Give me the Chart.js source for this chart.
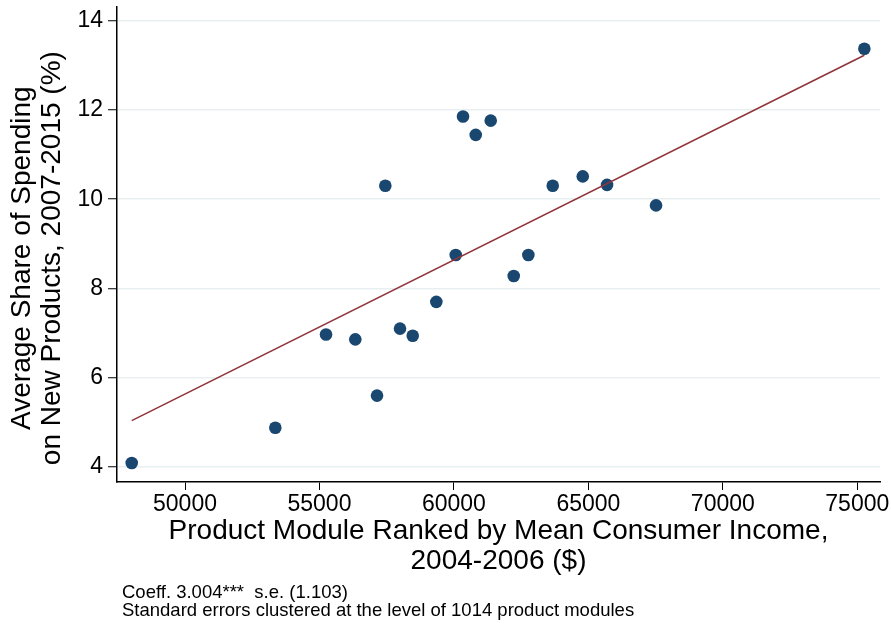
<!DOCTYPE html>
<html>
<head>
<meta charset="utf-8">
<title>New product spending share by consumer income</title>
<script src="https://cdn.jsdelivr.net/npm/chart.js@4.4.1/dist/chart.umd.min.js"></script>
<style>
  html, body { margin: 0; padding: 0; background: #ffffff; }
  #wrap { width: 891px; height: 626px; position: relative; }
</style>
</head>
<body>
<div id="wrap"><canvas id="chart"></canvas></div>
<script>
// Mean consumer income of each product-module bin, 2004-2006 ($)
const incomeX = [48018, 53358, 55244, 56333, 57140, 57449, 57995, 58468, 59346, 60067,
                 60338, 60811, 61368, 62224, 62767, 63674, 64790, 65694, 67516, 75262];
// Average share of spending on new products, 2007-2015 (%)
const shareY  = [4.09, 4.88, 6.97, 6.86, 5.60, 10.30, 7.10, 6.94, 7.70, 8.75,
                 11.85, 11.44, 11.76, 8.28, 8.75, 10.30, 10.51, 10.32, 9.86, 13.37];

const xTicks = [50000, 55000, 60000, 65000, 70000, 75000];
const yTicks = [4, 6, 8, 10, 12, 14];

// Linear fit: slope is the reported coefficient, in points per $10,000
const fitCoeff = 3.004;
const fitStartX = 48018;
const fitStartY = 5.04;
const fitEndX = 75262;

const yTitleLines = ['Average Share of Spending', 'on New Products, 2007-2015 (%)'];
const xTitleLines = ['Product Module Ranked by Mean Consumer Income,', '2004-2006 ($)'];
const noteLines = ['Coeff. 3.004***  s.e. (1.103)',
                   'Standard errors clustered at the level of 1014 product modules'];

const FONT = '"Liberation Sans", Arial, Helvetica, sans-serif';

const points = incomeX.map((x, i) => ({ x: x, y: shareY[i] }));
const fitLine = [
  { x: fitStartX, y: fitStartY },
  { x: fitEndX, y: fitStartY + fitCoeff * (fitEndX - fitStartX) / 10000 }
];

// Rotated y-axis title and the footnote under the plot
const textBlocks = {
  id: 'textBlocks',
  afterDraw(chart) {
    const { ctx, chartArea } = chart;
    ctx.save();
    ctx.fillStyle = '#000000';
    ctx.font = '28px ' + FONT;
    ctx.textAlign = 'center';
    ctx.textBaseline = 'middle';
    const cy = (chartArea.top + chartArea.bottom) / 2 + 14;
    yTitleLines.forEach((t, i) => {
      ctx.save();
      ctx.translate(22 + i * 30, cy);
      ctx.rotate(-Math.PI / 2);
      ctx.fillText(t, 0, 0);
      ctx.restore();
    });
    ctx.font = '18.5px ' + FONT;
    ctx.textAlign = 'left';
    noteLines.forEach((t, i) => ctx.fillText(t, chartArea.left + 5, 593 + i * 18));
    ctx.restore();
  }
};

new Chart(document.getElementById('chart'), {
  type: 'scatter',
  data: {
    datasets: [
      {
        label: 'Fitted values',
        data: fitLine,
        showLine: true,
        borderColor: '#90353b',
        borderWidth: 1.6,
        pointRadius: 0,
        pointHoverRadius: 0,
        order: 0
      },
      {
        label: 'Share of spending on new products',
        data: points,
        backgroundColor: '#1a476f',
        borderColor: '#1a476f',
        borderWidth: 0,
        pointRadius: 6.3,
        pointHoverRadius: 6.3,
        order: 1
      }
    ]
  },
  options: {
    responsive: true,
    maintainAspectRatio: false,
    devicePixelRatio: 1,
    animation: false,
    layout: { padding: { top: 4, right: 11, bottom: 50, left: 0 } },
    plugins: {
      legend: { display: false },
      tooltip: { enabled: false }
    },
    scales: {
      x: {
        type: 'linear',
        min: 47471,
        max: 75844,
        afterBuildTicks: (s) => { s.ticks = xTicks.map(v => ({ value: v })); },
        afterFit: (s) => { s.height = 94; s.paddingLeft = 0; s.paddingRight = 0; },
        ticks: {
          color: '#000000',
          font: { family: FONT, size: 23 },
          padding: 1,
          maxRotation: 0,
          autoSkip: false,
          callback: (v) => String(v)
        },
        grid: {
          drawOnChartArea: false,
          tickColor: '#000000',
          tickLength: 8,
          tickWidth: 1
        },
        border: { color: '#000000', width: 1.5 },
        title: {
          display: true,
          text: xTitleLines,
          color: '#000000',
          font: { family: FONT, size: 28, lineHeight: 1.07 },
          padding: { top: 0, bottom: 0 }
        }
      },
      y: {
        type: 'linear',
        min: 3.665,
        max: 14.32,
        afterBuildTicks: (s) => { s.ticks = yTicks.map(v => ({ value: v })); },
        afterFit: (s) => { s.width = 117; s.paddingTop = 0; s.paddingBottom = 0; },
        ticks: {
          color: '#000000',
          font: { family: FONT, size: 23 },
          padding: 5,
          autoSkip: false,
          callback: (v) => String(v)
        },
        grid: {
          color: '#e8eff1',
          lineWidth: 1.5,
          tickColor: '#000000',
          tickLength: 9,
          tickWidth: 1
        },
        border: { color: '#000000', width: 1.5 }
      }
    }
  },
  plugins: [textBlocks]
});
</script>
</body>
</html>
